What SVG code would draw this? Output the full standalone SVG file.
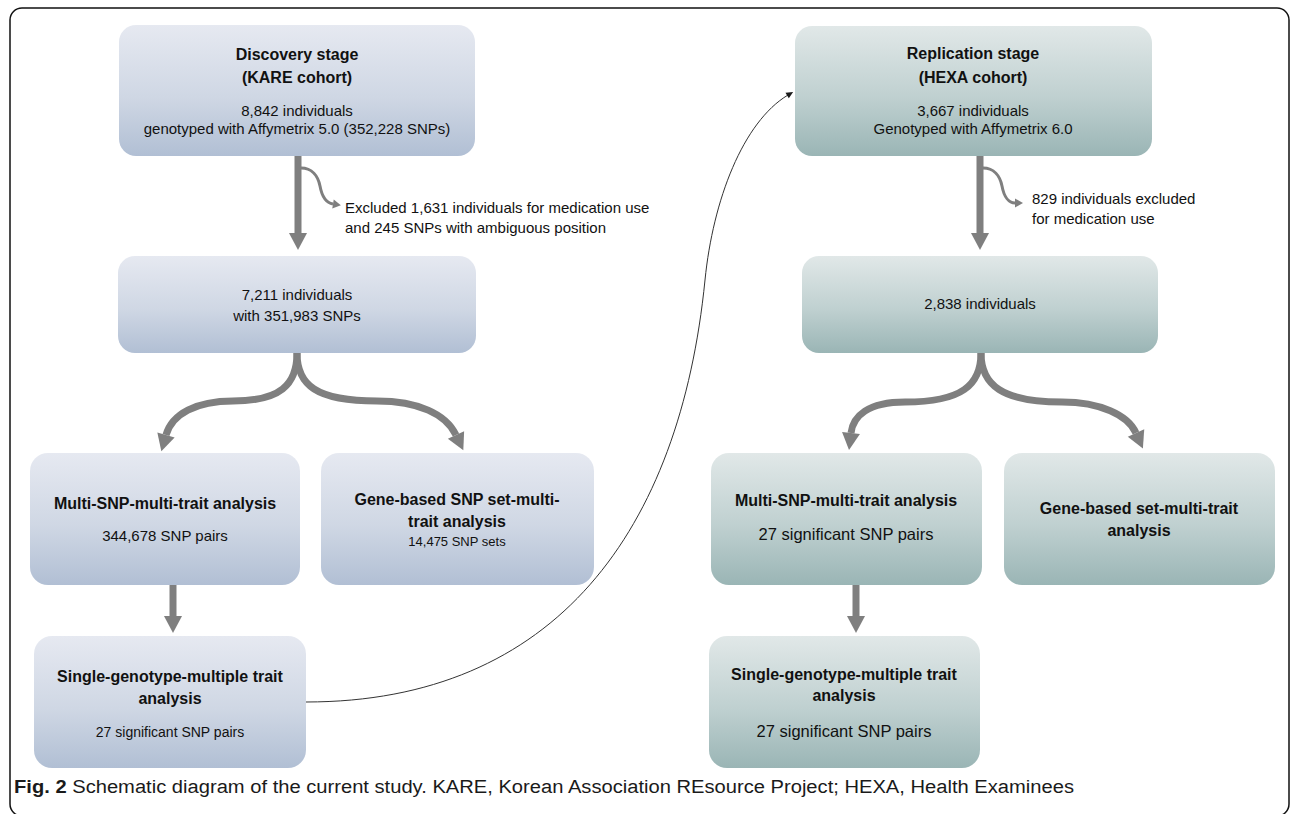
<svg xmlns="http://www.w3.org/2000/svg" width="1292" height="814" viewBox="0 0 1292 814">
<defs>
<linearGradient id="gBlue" x1="0" y1="0" x2="0" y2="1">
<stop offset="0" stop-color="#e6e9f1"/>
<stop offset="0.55" stop-color="#cfd7e4"/>
<stop offset="1" stop-color="#b1bfd4"/>
</linearGradient>
<linearGradient id="gTeal" x1="0" y1="0" x2="0" y2="1">
<stop offset="0" stop-color="#e1e8e8"/>
<stop offset="0.55" stop-color="#bfd0d0"/>
<stop offset="1" stop-color="#9ab5b5"/>
</linearGradient>
<marker id="mBig" markerUnits="userSpaceOnUse" markerWidth="18" markerHeight="20" refX="0" refY="0" orient="auto" overflow="visible">
<path d="M0,-9 L17,0 L0,9 z" fill="#7f7f7f"/>
</marker>
<marker id="mSmall" markerUnits="userSpaceOnUse" markerWidth="9" markerHeight="10" refX="0" refY="0" orient="auto" overflow="visible">
<path d="M0,-4.5 L8,0 L0,4.5 z" fill="#7f7f7f"/>
</marker>
<marker id="mThin" markerUnits="userSpaceOnUse" markerWidth="8" markerHeight="8" refX="0" refY="0" orient="auto" overflow="visible">
<path d="M-1,-3.2 L6,0 L-1,3.2 z" fill="#1a1a1a"/>
</marker>
</defs>
<style>
.t{font-family:"Liberation Sans",Arial,sans-serif;fill:#111;text-anchor:middle}
.b{font-weight:bold;font-size:16px}
.n{font-size:15px}
.l{font-family:"Liberation Sans",Arial,sans-serif;fill:#111;font-size:15px}
.blue{fill:url(#gBlue)}
.teal{fill:url(#gTeal)}
.thick{fill:none;stroke:#7f7f7f;stroke-width:7}
.thin{fill:none;stroke:#7f7f7f;stroke-width:3}
.link{fill:none;stroke:#333;stroke-width:1}
</style>
<rect x="10" y="8" width="1279" height="808" rx="12" fill="#fff" stroke="#111" stroke-width="1.5"/>

<g id="connectors">
<path class="thick" d="M298,156 L298,233" marker-end="url(#mBig)"/>
<path class="thin" d="M301,168 C312,168 318,176 320,186 C322,197 327,203 333,204" marker-end="url(#mSmall)"/>
<path class="thick" d="M297,353 C297,385 280,401 233,401 C196,401 172,414 166,435" marker-end="url(#mBig)"/>
<path class="thick" d="M297,353 C297,385 316,401 377,401 C418,401 446,414 456,435" marker-end="url(#mBig)"/>
<path class="thick" d="M173,585 L173,616" marker-end="url(#mBig)"/>
<path class="thick" d="M980,156 L980,233" marker-end="url(#mBig)"/>
<path class="thin" d="M983,168 C994,168 1000,176 1002,186 C1004,197 1009,203 1015,203" marker-end="url(#mSmall)"/>
<path class="thick" d="M981,353 C981,385 962,402 905,402 C868,402 853,416 851,433" marker-end="url(#mBig)"/>
<path class="thick" d="M981,353 C981,385 1002,402 1062,402 C1100,402 1128,415 1136,433" marker-end="url(#mBig)"/>
<path class="thick" d="M856,585 L856,616" marker-end="url(#mBig)"/>
<path class="link" d="M306,702 C556,702 680,530 705,280 C713,200 743,122 788,95" marker-end="url(#mThin)"/>
</g>

<g id="discovery">
<rect class="blue" x="119" y="25" width="356" height="131" rx="17"/>
<text class="t b" x="297" y="60">Discovery stage</text>
<text class="t b" x="297" y="83">(KARE cohort)</text>
<text class="t n" x="297" y="116">8,842 individuals</text>
<text class="t n" x="297" y="134">genotyped with Affymetrix 5.0 (352,228 SNPs)</text>
</g>
<g id="excluded-left">
<text class="l" x="345" y="213">Excluded 1,631 individuals for medication use</text>
<text class="l" x="345" y="233">and 245 SNPs with ambiguous position</text>
</g>
<g id="kare-filtered">
<rect class="blue" x="118" y="256" width="358" height="97" rx="17"/>
<text class="t n" x="297" y="300">7,211 individuals</text>
<text class="t n" x="297" y="321">with 351,983 SNPs</text>
</g>
<g id="multi-left">
<rect class="blue" x="30" y="453" width="270" height="132" rx="18"/>
<text class="t b" x="165" y="509">Multi-SNP-multi-trait analysis</text>
<text class="t n" x="165" y="541">344,678 SNP pairs</text>
</g>
<g id="gene-left">
<rect class="blue" x="321" y="453" width="273" height="132" rx="18"/>
<text class="t b" x="457" y="505">Gene-based SNP set-multi-</text>
<text class="t b" x="457" y="527">trait analysis</text>
<text class="t" x="457" y="546" font-size="13">14,475 SNP sets</text>
</g>
<g id="single-left">
<rect class="blue" x="34" y="636" width="272" height="132" rx="18"/>
<text class="t b" x="170" y="682">Single-genotype-multiple trait</text>
<text class="t b" x="170" y="704">analysis</text>
<text class="t" x="170" y="737" font-size="14">27 significant SNP pairs</text>
</g>

<g id="replication">
<rect class="teal" x="795" y="26" width="357" height="130" rx="17"/>
<text class="t b" x="973" y="59">Replication stage</text>
<text class="t b" x="973" y="83">(HEXA cohort)</text>
<text class="t n" x="973" y="116">3,667 individuals</text>
<text class="t n" x="973" y="134">Genotyped with Affymetrix 6.0</text>
</g>
<g id="excluded-right">
<text class="l" x="1032" y="204">829 individuals excluded</text>
<text class="l" x="1032" y="224">for medication use</text>
</g>
<g id="hexa-filtered">
<rect class="teal" x="802" y="256" width="356" height="97" rx="17"/>
<text class="t n" x="980" y="309">2,838 individuals</text>
</g>
<g id="multi-right">
<rect class="teal" x="711" y="453" width="271" height="132" rx="18"/>
<text class="t b" x="846" y="506">Multi-SNP-multi-trait analysis</text>
<text class="t" x="846" y="540" font-size="16.5">27 significant SNP pairs</text>
</g>
<g id="gene-right">
<rect class="teal" x="1004" y="453" width="271" height="132" rx="18"/>
<text class="t b" x="1139" y="514" font-size="16.5">Gene-based set-multi-trait</text>
<text class="t b" x="1139" y="536" font-size="16.5">analysis</text>
</g>
<g id="single-right">
<rect class="teal" x="709" y="636" width="271" height="132" rx="18"/>
<text class="t b" x="844" y="680">Single-genotype-multiple trait</text>
<text class="t b" x="844" y="701">analysis</text>
<text class="t" x="844" y="737" font-size="16.5">27 significant SNP pairs</text>
</g>

<g id="caption">
<text x="14" y="793" font-family="'Liberation Sans',Arial,sans-serif" font-size="18" fill="#1a1a1a" textLength="1060" lengthAdjust="spacingAndGlyphs"><tspan font-weight="bold">Fig. 2</tspan> Schematic diagram of the current study. KARE, Korean Association REsource Project; HEXA, Health Examinees</text>
</g>
</svg>
